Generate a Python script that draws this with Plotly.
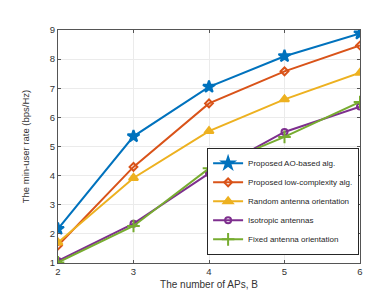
import plotly.graph_objects as go

x_vals = [2, 3, 4, 5, 6]
ao_based = [2.17, 5.35, 7.05, 8.1, 8.88]
low_complexity = [1.6, 4.3, 6.48, 7.58, 8.47]
random_orient = [1.7, 3.92, 5.53, 6.62, 7.53]
isotropic = [1.07, 2.35, 4.08, 5.5, 6.37]
fixed_orient = [1.02, 2.27, 4.25, 5.33, 6.53]

names = ["Proposed AO-based alg.", "Proposed low-complexity alg.",
         "Random antenna orientation", "Isotropic antennas", "Fixed antenna orientation"]
series = [ao_based, low_complexity, random_orient, isotropic, fixed_orient]
colors = ["#0072BD", "#D95319", "#EDB120", "#7E2F8E", "#77AC30"]
symbols = ["star", "diamond-open", "triangle-up", "circle-open", "cross-thin-open"]
sizes = [9, 6, 8, 6, 9]

fig = go.Figure()
for n, s, c, sym, sz in zip(names, series, colors, symbols, sizes):
    fig.add_trace(go.Scatter(x=x_vals, y=s, name=n, mode="lines+markers",
                             line=dict(color=c, width=2),
                             marker=dict(symbol=sym, size=sz, color=c,
                                         line=dict(color=c, width=2))))

axis_common = dict(showgrid=True, gridcolor="#EBEBEB", gridwidth=1,
                   showline=True, linecolor="#555555", linewidth=1, mirror="ticks",
                   ticks="inside", ticklen=3, tickcolor="#555555",
                   tickfont=dict(family="Liberation Sans, Arial", size=9.5, color="#333333"),
                   zeroline=False)

fig.update_layout(
    width=389, height=292,
    margin=dict(l=50, r=37, t=22, b=33),
    plot_bgcolor="white", paper_bgcolor="white",
    font=dict(family="Liberation Sans, Arial", color="#333333"),
    xaxis=dict(range=[2, 6], tickvals=[2, 3, 4, 5, 6],
               title=dict(text="The number of APs, B", font=dict(size=10), standoff=4),
               **axis_common),
    yaxis=dict(range=[1, 9], tickvals=list(range(1, 10)),
               title=dict(text="The min-user rate (bps/Hz)", font=dict(size=9.5), standoff=18),
               **axis_common),
    legend=dict(x=0.997, y=0.035, xanchor="right", yanchor="bottom",
                bgcolor="white", bordercolor="#262626", borderwidth=1,
                font=dict(size=8, color="#262626"), itemwidth=30,
                tracegroupgap=0, itemsizing="trace"),
    showlegend=True,
)

fig.write_html("out.html")
